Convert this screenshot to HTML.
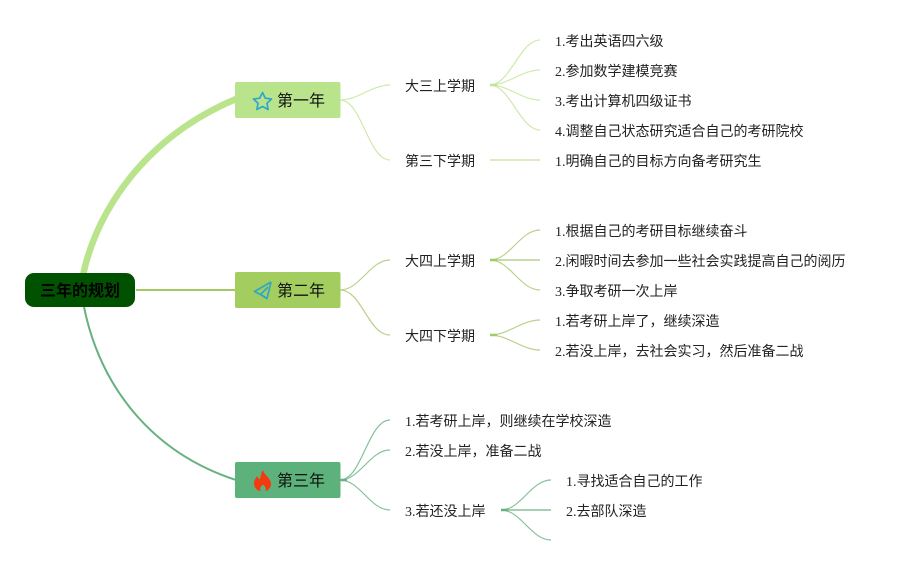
<!DOCTYPE html>
<html lang="zh"><head><meta charset="utf-8"><style>
html,body{margin:0;padding:0;background:#fff}
svg{display:block}
text{font-family:"Liberation Serif","Noto Sans CJK SC",serif;font-size:14px;fill:#222}
.b{font-family:"Liberation Sans","Noto Sans CJK SC",sans-serif;font-size:16px;fill:#111}
.r{font-family:"Liberation Sans","Noto Sans CJK SC",sans-serif;font-size:16px;font-weight:700;fill:#000}
.l1{fill:none;stroke:#cfe9ae;stroke-width:1.2}
.l2{fill:none;stroke:#b9d08a;stroke-width:1.2}
.l3{fill:none;stroke:#85c09b;stroke-width:1.2}
</style></head><body>
<svg width="906" height="565" viewBox="0 0 906 565" xmlns="http://www.w3.org/2000/svg">
<rect width="906" height="565" fill="#fff"/>
<path d="M83 275C98 205 150 135 236 99" fill="none" stroke="#b9e48c" stroke-width="6.500"/>
<path d="M136 290H236" fill="none" stroke="#a3c965" stroke-width="2"/>
<path d="M84 307C100 385 150 452 236 480" fill="none" stroke="#67b180" stroke-width="2"/>
<rect x="25" y="273" width="110" height="34" rx="9" fill="#005200"/>
<text class="r" x="80" y="296" text-anchor="middle">三年的规划</text>
<rect x="235" y="82" width="105.500" height="36" rx="2" fill="#b9e48c"/>
<rect x="235" y="272" width="105.500" height="36" rx="2" fill="#a3ce5f"/>
<rect x="235" y="462" width="105.500" height="36" rx="2" fill="#5cb27a"/>
<path d="M262.500 92.500L265.300 98.200L271.500 99L267 103.300L268.100 109.500L262.500 106.500L256.900 109.500L258 103.300L253.500 99L259.700 98.200Z" fill="none" stroke="#2ea7c9" stroke-width="1.700" stroke-linejoin="round"/>
<path d="M271 282L254.500 291.500L260.500 294.500L268 287M260.500 294.500L267 298.500Z" fill="none" stroke="#2ea7c9" stroke-width="1.700" stroke-linejoin="round"/>
<path d="M271 282L267 298.500L260.500 294.500" fill="none" stroke="#2ea7c9" stroke-width="1.700" stroke-linejoin="round"/>
<path d="M263 470C264 475 271 478 271 484C271 488 268 490.500 265.500 491C266.500 488 265 486 263 484.500C261 486 259.500 488 260.500 491C257 490.500 254 488 254 483C254 480 256 478 257 476C258 478 259 479 260 479C261 476 261 473 263 470Z" fill="#f53a12"/>
<text class="b" x="277" y="106">第一年</text>
<text class="b" x="277" y="296">第二年</text>
<text class="b" x="277" y="486">第三年</text>
<g class="l1">
<path class="l1" d="M340 100C358 100 372 85 390 85"/>
<path class="l1" d="M340 100C362 100 368 160 390 160"/>
<path class="l1" d="M490 85C510 85 520 40 540 40"/>
<path class="l1" d="M490 85C508 85 522 70 540 70"/>
<path class="l1" d="M490 85C508 85 522 100 540 100"/>
<path class="l1" d="M490 85C510 85 520 130 540 130"/>
<path class="l1" d="M490 160H540" style="stroke-width:1.500"/>
<path d="M490 85H497" stroke="#bfe596" stroke-width="2.500" fill="none"/>
</g>
<g class="l2">
<path class="l2" d="M340 290C360 290 370 260 390 260"/>
<path class="l2" d="M340 290C362 290 368 335 390 335"/>
<path class="l2" d="M490 260C510 260 520 230 540 230"/>
<path class="l2" d="M490 260H540" style="stroke-width:1.500"/>
<path class="l2" d="M490 260C510 260 520 290 540 290"/>
<path class="l2" d="M490 335C508 335 522 320 540 320"/>
<path class="l2" d="M490 335C508 335 522 350 540 350"/>
<path d="M490 260H497M490 335H497" stroke="#a3c965" stroke-width="2.500" fill="none"/>
</g>
<g class="l3">
<path class="l3" d="M340 480C362 480 368 420 390 420"/>
<path class="l3" d="M340 480C360 480 370 450 390 450"/>
<path class="l3" d="M340 480C360 480 370 510 390 510"/>
<path class="l3" d="M501 510C521 510 531 480 551 480"/>
<path class="l3" d="M501 510H551" style="stroke-width:1.500"/>
<path class="l3" d="M501 510C521 510 531 540 551 540"/>
<path d="M501 510H508M340 480H347" stroke="#67b180" stroke-width="2.500" fill="none"/>
</g>
<text x="405" y="91">大三上学期</text>
<text x="405" y="166">第三下学期</text>
<text x="405" y="266">大四上学期</text>
<text x="405" y="341">大四下学期</text>
<text x="555" y="46">1.考出英语四六级</text>
<text x="555" y="76">2.参加数学建模竞赛</text>
<text x="555" y="106">3.考出计算机四级证书</text>
<text x="555" y="136">4.调整自己状态研究适合自己的考研院校</text>
<text x="555" y="166">1.明确自己的目标方向备考研究生</text>
<text x="555" y="236">1.根据自己的考研目标继续奋斗</text>
<text x="555" y="266">2.闲暇时间去参加一些社会实践提高自己的阅历</text>
<text x="555" y="296">3.争取考研一次上岸</text>
<text x="555" y="326">1.若考研上岸了，继续深造</text>
<text x="555" y="356">2.若没上岸，去社会实习，然后准备二战</text>
<text x="405" y="426">1.若考研上岸，则继续在学校深造</text>
<text x="405" y="456">2.若没上岸，准备二战</text>
<text x="405" y="516">3.若还没上岸</text>
<text x="566" y="486">1.寻找适合自己的工作</text>
<text x="566" y="516">2.去部队深造</text>
</svg>
</body></html>
